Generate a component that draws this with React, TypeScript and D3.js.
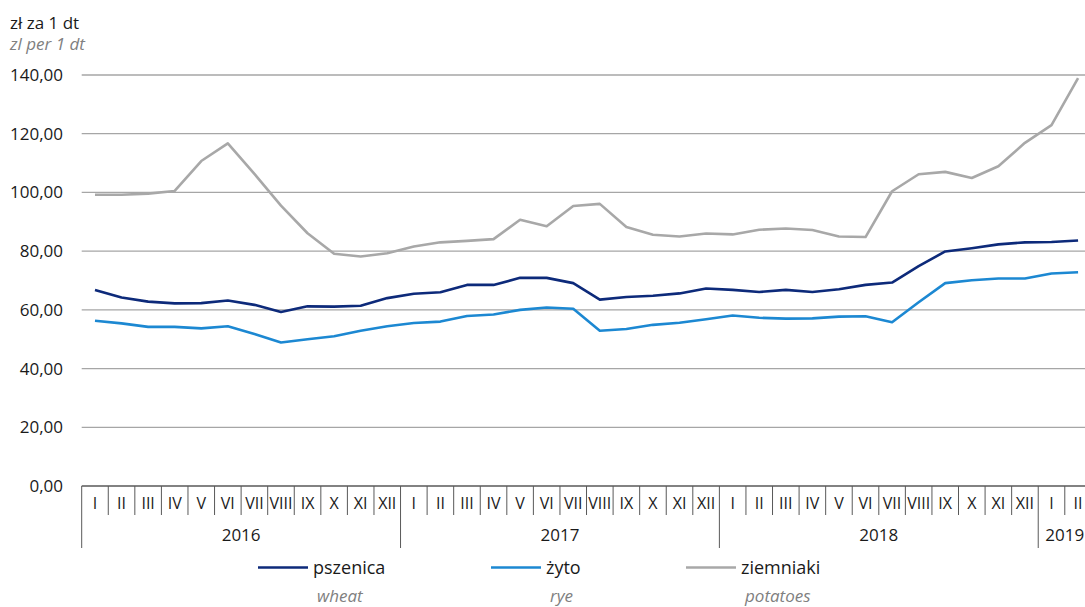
import React from 'react';
import * as d3 from 'd3';

const monthNames = ['I', 'II', 'III', 'IV', 'V', 'VI', 'VII', 'VIII', 'IX', 'X', 'XI', 'XII'];
const years = [
  { year: '2016', months: 12 },
  { year: '2017', months: 12 },
  { year: '2018', months: 12 },
  { year: '2019', months: 2 },
];

// zł za 1 dt, I 2016 - II 2019
const wheat = [66.8, 64.2, 62.8, 62.2, 62.3, 63.2, 61.7, 59.3, 61.2, 61.1, 61.4, 64.0,
  65.5, 66.0, 68.5, 68.5, 70.9, 70.9, 69.1, 63.5, 64.4, 64.8, 65.6, 67.3,
  66.8, 66.1, 66.8, 66.1, 67.0, 68.5, 69.3, 74.9, 79.9, 81.0, 82.3, 83.0, 83.1, 83.6];
const rye = [56.3, 55.4, 54.2, 54.2, 53.7, 54.4, 51.8, 48.9, 50.0, 51.0, 52.9, 54.4,
  55.5, 56.0, 57.9, 58.4, 60.0, 60.8, 60.4, 52.9, 53.5, 54.9, 55.6, 56.8,
  58.1, 57.3, 57.0, 57.1, 57.7, 57.8, 55.8, 62.6, 69.1, 70.1, 70.7, 70.7, 72.4, 72.8];
const potatoes = [99.2, 99.2, 99.6, 100.5, 110.7, 116.7, 106.3, 95.5, 86.1, 79.1, 78.2, 79.3,
  81.6, 83.0, 83.5, 84.1, 90.7, 88.5, 95.4, 96.1, 88.2, 85.6, 85.0, 86.0,
  85.7, 87.3, 87.7, 87.2, 85.0, 84.8, 100.4, 106.2, 107.0, 104.9, 108.9, 116.9, 122.9, 138.9];

const yTicks = [0, 20, 40, 60, 80, 100, 120, 140];

const series = [
  { pl: 'pszenica', en: 'wheat', values: wheat, color: '#0d2a7a', lx: 258 },
  { pl: 'żyto', en: 'rye', values: rye, color: '#1c88d2', lx: 491 },
  { pl: 'ziemniaki', en: 'potatoes', values: potatoes, color: '#a8a8a8', lx: 686 },
];

const W = 1085, H = 607;
const FONT = '"Open Sans", "Noto Sans", sans-serif';

export default function App() {
  const labels: string[] = [];
  years.forEach(y => { for (let m = 0; m < y.months; m++) labels.push(monthNames[m]); });
  const n = labels.length;
  const bw = 26.57;
  const x0 = 81.7;

  const x = d3.scaleBand<number>()
    .domain(d3.range(n))
    .range([x0, x0 + n * bw]);
  const y = d3.scaleLinear().domain([0, 140]).range([486, 75]);

  const line = d3.line<number>()
    .x((_, i) => (x(i) as number) + x.bandwidth() / 2)
    .y(d => y(d));

  const fmt = (v: number) => v.toFixed(2).replace('.', ',');

  let acc = 0;
  const yearSpans = years.map(yr => {
    const s = { ...yr, start: acc, end: acc + yr.months };
    acc += yr.months;
    return s;
  });

  return (
    <svg width={W} height={H} style={{ position: 'absolute', left: 0, top: 0 }}
      fontFamily={FONT}>
      <text x={10} y={29} fontSize={17} fill="#1a1a1a">zł za 1 dt</text>
      <text x={10} y={50} fontSize={17} fontStyle="italic" fill="#808080">zl per 1 dt</text>

      {yTicks.map(t => (
        <g key={t}>
          {t > 0 && <line x1={x0} x2={W} y1={y(t)} y2={y(t)} stroke="#a6a6a6" strokeWidth={1.3} />}
          <text x={63} y={y(t)} dy="0.35em" textAnchor="end" fontSize={17} fill="#1a1a1a">{fmt(t)}</text>
        </g>
      ))}

      {/* category axis */}
      <line x1={x0} x2={W} y1={y(0)} y2={y(0)} stroke="#595959" strokeWidth={1.3} />
      {d3.range(n + 1).map(i => {
        const isYear = yearSpans.some(s => s.start === i) || i === n;
        const xx = x0 + i * bw;
        return <line key={'t' + i} x1={xx} x2={xx} y1={y(0)} y2={isYear ? 548 : 515}
          stroke="#595959" strokeWidth={1} />;
      })}
      {labels.map((l, i) => (
        <text key={'m' + i} x={(x(i) as number) + x.bandwidth() / 2} y={509}
          textAnchor="middle" fontSize={16} fill="#1a1a1a">{l}</text>
      ))}
      {yearSpans.map(s => (
        <text key={s.year} x={x0 + ((s.start + s.end) / 2) * bw} y={541}
          textAnchor="middle" fontSize={17} fill="#1a1a1a">{s.year}</text>
      ))}

      {series.map(s => (
        <path key={s.pl} d={line(s.values) || ''} fill="none" stroke={s.color}
          strokeWidth={2.6} strokeLinejoin="round" />
      ))}

      {series.map(s => (
        <g key={'lg' + s.pl}>
          <line x1={s.lx} x2={s.lx + 50} y1={567.5} y2={567.5} stroke={s.color} strokeWidth={2.6} />
          <text x={s.lx + 55} y={574} fontSize={18} fill="#1a1a1a">{s.pl}</text>
          <text x={s.lx + 59} y={602} fontSize={17} fontStyle="italic" fill="#808080">{s.en}</text>
        </g>
      ))}
    </svg>
  );
}
